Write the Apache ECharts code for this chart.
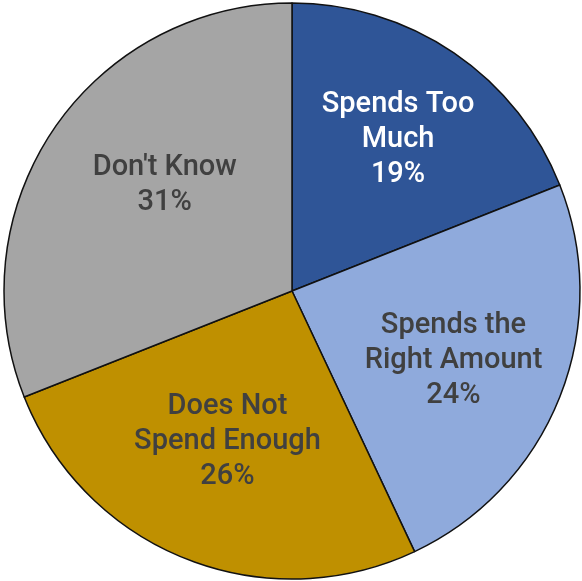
<!DOCTYPE html>
<html><head><meta charset="utf-8">
<script src="https://cdn.jsdelivr.net/npm/echarts@6/dist/echarts.min.js"></script>
<style>html,body{margin:0;padding:0;background:#fff}#c{width:582px;height:581px}</style>
</head><body><div id="c"></div>
<script>
const categories = ["Spends Too\nMuch", "Spends the\nRight Amount", "Does Not\nSpend Enough", "Don't Know"];
const values = [19, 24, 26, 31];
const colors = ["#2F5597", "#8FAADC", "#BF9000", "#A5A5A5"];
const labelColors = ["#FFFFFF", "#404040", "#404040", "#404040"];
const labelNudges = [[6, -4], [-4, 4], [1, -15], [20, -6]];

const chart = echarts.init(document.getElementById('c'));
const pieData = categories.map((n, i) => ({name: n, value: values[i], itemStyle: {color: colors[i]}}));
const labelData = categories.map((n, i) => ({name: n, value: values[i], label: {color: labelColors[i], offset: labelNudges[i]}}));
chart.setOption({
  animation: false,
  series: [
    {
      type: 'pie', center: [292, 291], radius: [0, 288], startAngle: 90, clockwise: true,
      silent: true,
      itemStyle: {borderColor: '#111', borderWidth: 1.5},
      label: {show: false}, labelLine: {show: false},
      data: pieData
    },
    {
      type: 'pie', center: [292, 291], radius: [0, 350], startAngle: 90, clockwise: true,
      silent: true,
      itemStyle: {color: 'rgba(0,0,0,0)', borderWidth: 0},
      label: {show: true, position: 'inside', formatter: p => p.name + '\n' + p.value + '%',
        fontFamily: 'Roboto, Liberation Sans, Arial, sans-serif', fontWeight: 500, fontSize: 29, lineHeight: 35, align: 'center'},
      labelLine: {show: false},
      data: labelData
    }
  ]
});
</script></body></html>
